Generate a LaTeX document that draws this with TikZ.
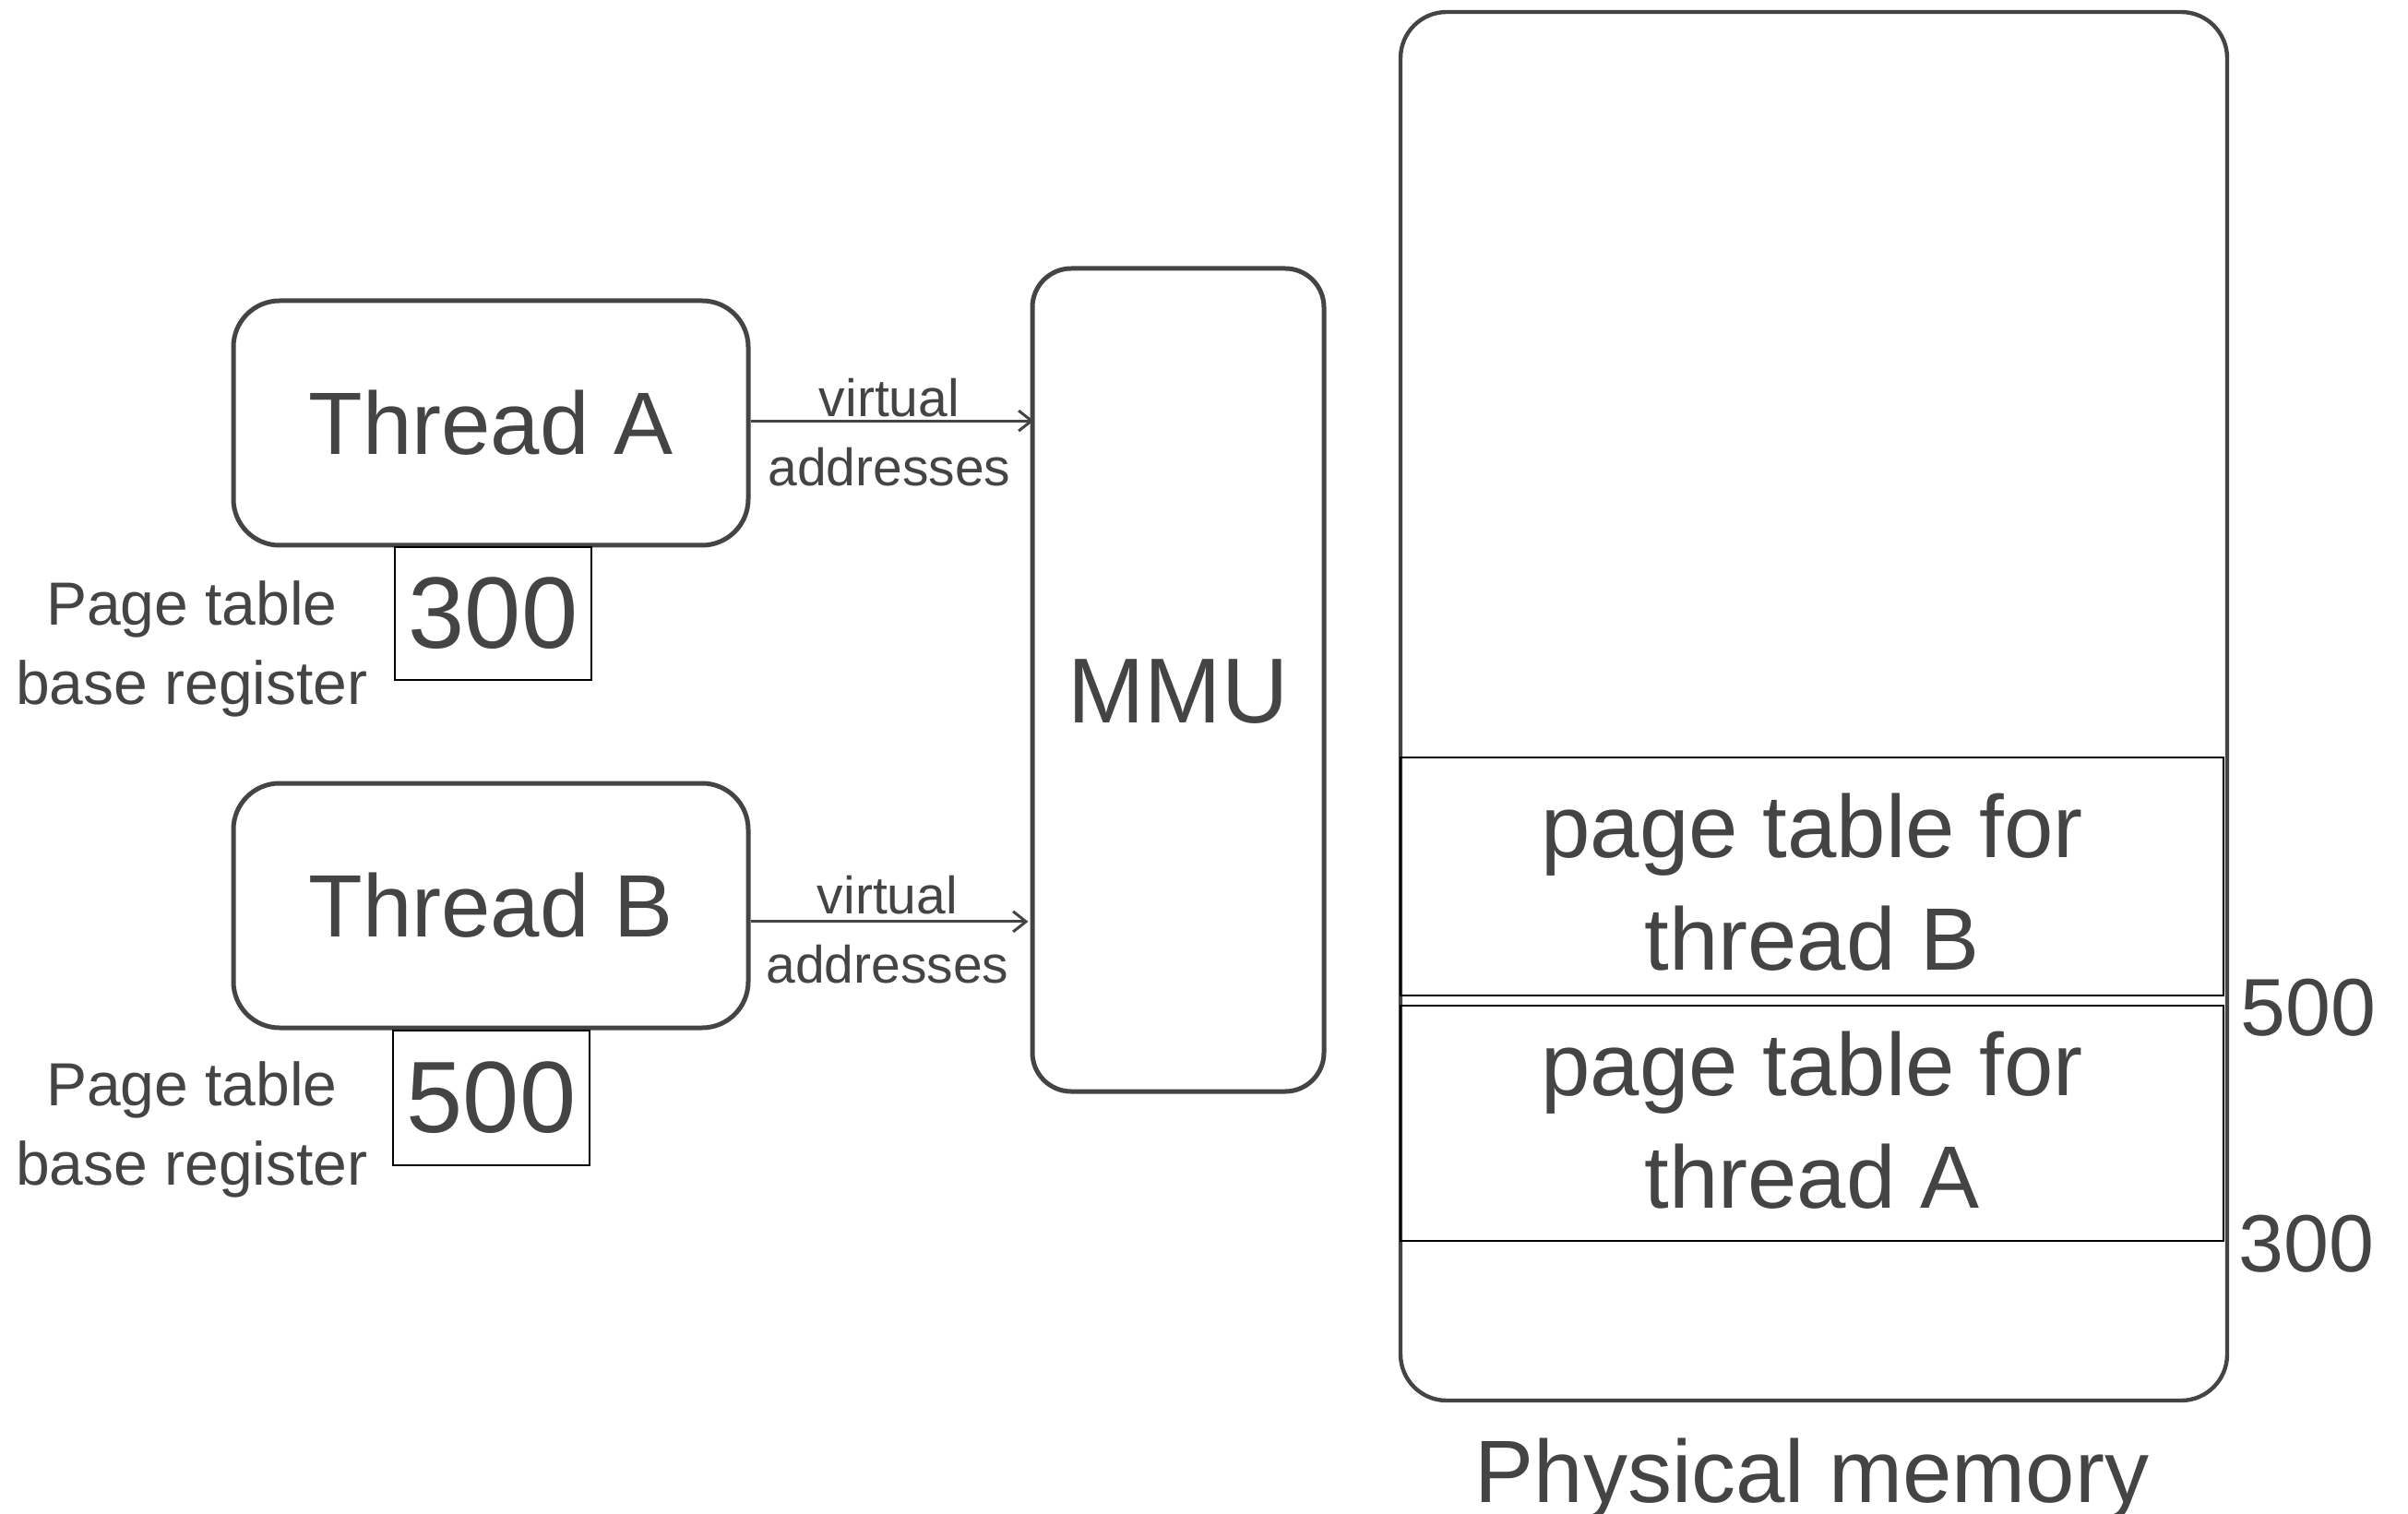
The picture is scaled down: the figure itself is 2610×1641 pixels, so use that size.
\documentclass[tikz,border=0pt]{standalone}
\usepackage{fontspec}
\setmainfont{Liberation Sans}
\usetikzlibrary{arrows.meta,calc}
\definecolor{ink}{RGB}{68,68,68}
\tikzset{
  thread/.style={draw=ink, line width=2.5pt, rounded corners=25pt, minimum width=279pt, minimum height=132.5pt, text=ink, font=\fontsize{48}{56}\selectfont, inner sep=0pt},
  regbox/.style={draw=black, line width=1pt, minimum width=106.5pt, text=ink, font=\fontsize{55}{60}\selectfont, inner sep=0pt},
  lbl/.style={text=ink, align=center, inner sep=0pt},
  ptbox/.style={draw=black, line width=1.2pt, minimum width=446pt, text=ink, align=center, font=\fontsize{48}{61}\selectfont, inner sep=0pt},
  conn/.style={draw=ink, line width=1.5pt, -{Straight Barb[length=7pt,width=11pt]}},
}
\begin{document}
\begin{tikzpicture}[x=0.5pt,y=-0.5pt]
\useasboundingbox (0,0) rectangle (2610,1641);
% memory
\node[draw=ink, line width=2.2pt, rounded corners=25pt, minimum width=448pt, minimum height=752.5pt, inner sep=0pt] (mem) at (1966,765.5) {};
\node[ptbox, minimum height=129pt] (ptb) at (1964,950) {\raisebox{-3pt}[\height][\depth]{\parbox{446pt}{\centering page table for\\thread B}}};
\node[ptbox, minimum height=127.5pt] (pta) at (1964,1217.5) {\raisebox{1.5pt}[\height][\depth]{\parbox{446pt}{\centering page table for\\thread A}}};
\node[lbl, font=\fontsize{44}{50}\selectfont] (n500) at (2502,1092) {500};
\node[lbl, font=\fontsize{44}{50}\selectfont] (n300) at (2500,1348) {300};
\node[lbl, anchor=base, font=\fontsize{48}{56}\selectfont] (pm) at (1964,1628) {Physical memory};
% MMU
\node[draw=ink, line width=2.5pt, rounded corners=21pt, minimum width=158pt, minimum height=446pt, text=ink, font=\fontsize{50}{56}\selectfont, inner sep=0pt] (mmu) at (1277,737) {\raisebox{-6.5pt}[\height][\depth]{MMU}};
% threads
\node[thread] (ta) at (532,458.5) {Thread A};
\node[thread] (tb) at (532,981.5) {Thread B};
\node[regbox, minimum height=72pt] (ra) at (534.5,665) {300};
\node[regbox, minimum height=73pt] (rb) at (532.5,1190) {500};
\node[lbl, font=\fontsize{33}{43}\selectfont] (la) at (208,703) {Page table\\base register};
\node[lbl, font=\fontsize{33}{43}\selectfont] (lb) at (208,1224) {Page table\\base register};
% arrows
\coordinate (ea) at ([yshift=1.2pt]ta.east);
\coordinate (eb) at ([yshift=-8.7pt]tb.east);
\draw[conn] (ea) -- ([xshift=2pt]mmu.west |- ea);
\draw[conn] (eb) -- ([xshift=-1pt]mmu.west |- eb);
\node[lbl, font=\fontsize{28.5}{34}\selectfont] (va) at (964,431) {virtual};
\node[lbl, font=\fontsize{28.5}{34}\selectfont] (aa) at (964,506) {addresses};
\node[lbl, font=\fontsize{28.5}{34}\selectfont] (vb) at (962,970) {virtual};
\node[lbl, font=\fontsize{28.5}{34}\selectfont] (ab) at (962,1045) {addresses};
\end{tikzpicture}
\end{document}
